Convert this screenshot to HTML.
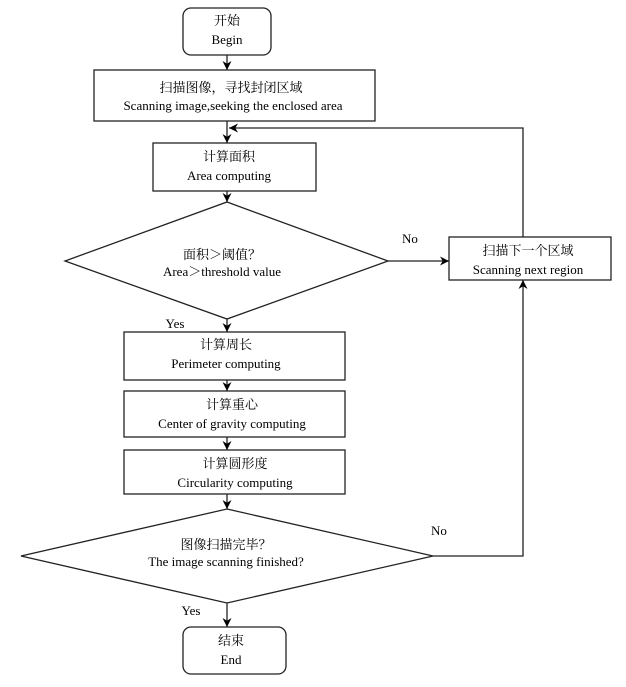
<!DOCTYPE html>
<html><head><meta charset="utf-8"><style>
html,body{margin:0;padding:0;background:#fff}
svg{display:block}
text{font-family:"Liberation Serif","Noto Serif CJK SC","Noto Sans CJK SC",serif;font-size:13px;fill:#000;text-anchor:middle}
</style></head><body>
<svg width="626" height="687" viewBox="0 0 626 687" xmlns="http://www.w3.org/2000/svg">
<defs><marker id="a" viewBox="0 0 10 10" refX="10" refY="5" markerWidth="9" markerHeight="9" orient="auto" markerUnits="userSpaceOnUse"><path d="M0,0 L10,5 L0,10 L3,5 z" fill="#000"/></marker></defs>
<g fill="none" stroke="#222" stroke-width="1.3">
<rect x="183" y="8" width="88" height="47" rx="8"/>
<rect x="94" y="70" width="281" height="51"/>
<rect x="153" y="143" width="163" height="48"/>
<polygon points="227,202 388,261 227,319 65,261"/>
<rect x="449" y="237" width="162" height="43"/>
<rect x="124" y="332" width="221" height="48"/>
<rect x="124" y="391" width="221" height="46"/>
<rect x="124" y="450" width="221" height="44"/>
<polygon points="227,509 433,556 227,603 21,556"/>
<rect x="183" y="627" width="103" height="47" rx="8"/>
</g>
<g stroke="#222" stroke-width="1.3" fill="none">
<line x1="227" y1="55" x2="227" y2="70" marker-end="url(#a)"/>
<line x1="227" y1="121" x2="227" y2="143" marker-end="url(#a)"/>
<polyline points="523,237 523,128 229,128" marker-end="url(#a)"/>
<line x1="227" y1="191" x2="227" y2="202" marker-end="url(#a)"/>
<line x1="388" y1="261" x2="449" y2="261" marker-end="url(#a)"/>
<line x1="227" y1="319" x2="227" y2="332" marker-end="url(#a)"/>
<line x1="227" y1="380" x2="227" y2="391" marker-end="url(#a)"/>
<line x1="227" y1="437" x2="227" y2="450" marker-end="url(#a)"/>
<line x1="227" y1="494" x2="227" y2="509" marker-end="url(#a)"/>
<polyline points="433,556 523,556 523,280" marker-end="url(#a)"/>
<line x1="227" y1="603" x2="227" y2="627" marker-end="url(#a)"/>
</g>
<text x="227" y="25">开始</text><text x="227" y="44">Begin</text>
<text x="231" y="92">扫描图像，寻找封闭区域</text><text x="233" y="110">Scanning image,seeking the enclosed area</text>
<text x="229" y="161">计算面积</text><text x="229" y="180">Area computing</text>
<text x="222" y="259">面积＞阈值？</text><text x="222" y="276">Area＞threshold value</text>
<text x="410" y="243">No</text>
<text x="528" y="255">扫描下一个区域</text><text x="528" y="274">Scanning next region</text>
<text x="175" y="328">Yes</text>
<text x="226" y="349">计算周长</text><text x="226" y="368">Perimeter computing</text>
<text x="232" y="409">计算重心</text><text x="232" y="428">Center of gravity computing</text>
<text x="235" y="468">计算圆形度</text><text x="235" y="487">Circularity computing</text>
<text x="226" y="549">图像扫描完毕？</text><text x="226" y="566">The image scanning finished?</text>
<text x="439" y="535">No</text>
<text x="191" y="615">Yes</text>
<text x="231" y="645">结束</text><text x="231" y="664">End</text>
</svg>
</body></html>
